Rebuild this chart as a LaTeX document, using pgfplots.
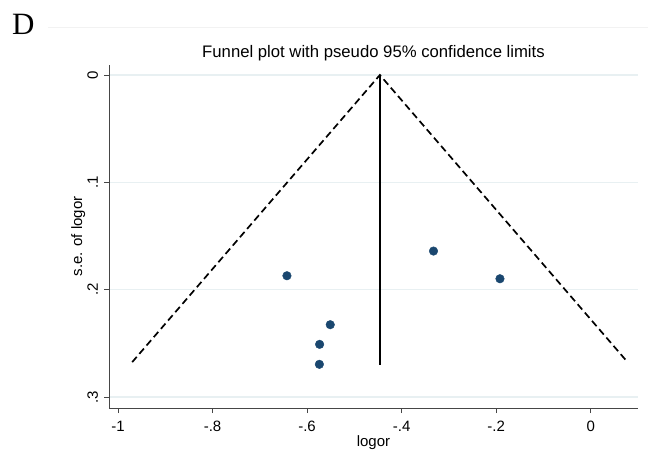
\documentclass[border=0pt]{standalone}
\usepackage{pgfplots}
\pgfplotsset{compat=1.18}
\usepackage{fontspec}
\setmainfont{Liberation Sans}
\newfontfamily\timesfont{Liberation Serif}
\definecolor{statanavy}{RGB}{26,71,111}
\definecolor{gridc}{RGB}{232,240,242}
\definecolor{axc}{RGB}{70,70,70}
\begin{document}
\begin{tikzpicture}[x=1pt,y=1pt]
\path[use as bounding box] (0,0) rectangle (648,451);
\draw[color=black!5, line width=0.6pt] (48,424) -- (648,424);
\node[font=\timesfont\fontsize{31}{31}\selectfont, anchor=base west, inner sep=0pt] at (12,416) {D};
\begin{axis}[
  at={(109pt,43pt)}, anchor=south west, scale only axis,
  width=529pt, height=343pt,
  xmin=-1.019, xmax=0.10, ymin=-0.0093, ymax=0.3102,
  y dir=reverse,
  clip=false,
  axis line style={draw=none},
  font=\fontsize{15}{18}\selectfont,
  xtick={-1,-0.8,-0.6,-0.4,-0.2,0},
  xticklabels={-1,-.8,-.6,-.4,-.2,0},
  ytick={0,0.1,0.2,0.3},
  yticklabels={0,.1,.2,.3},
  tick align=outside,
  major tick length=5pt,
  tick style={color=axc, line width=0.8pt},
  xtick pos=left, ytick pos=left,
  xticklabel style={anchor=base, inner sep=0pt, yshift=-18pt},
  yticklabel style={xshift=-6pt, rotate=90, anchor=base, inner sep=0pt},
  ymajorgrids, grid style={color=gridc, line width=1.2pt},
  title={Funnel plot with pseudo 95\% confidence limits},
  title style={at={(axis description cs:0.5,1)}, anchor=base, yshift=2pt, inner sep=0pt, font=\fontsize{16.7}{20}\selectfont},
  xlabel={logor},
  xlabel style={at={(axis description cs:0.5,0)}, anchor=base, yshift=-38pt, inner sep=0pt},
  ylabel={s.e. of logor},
  ylabel style={at={(axis description cs:0,0.5)}, anchor=base, yshift=27pt, inner sep=0pt},
]
\draw[color=axc, line width=0.9pt] (axis cs:-1.019,-0.0093) -- (axis cs:-1.019,0.3102) -- (axis cs:0.10,0.3102);
\addplot[black, line width=1.7pt, dash pattern=on 7pt off 4pt] coordinates {(-0.970,0.2675) (-0.446,0) (0.078,0.2675)};
\addplot[black, line width=1.6pt] coordinates {(-0.446,0) (-0.446,0.270)};
\addplot[only marks, mark=*, mark size=4.3pt, color=statanavy] coordinates {
(-0.6426,0.187) (-0.3326,0.164) (-0.192,0.1898) (-0.551,0.2326) (-0.5735,0.2509) (-0.574,0.2695)};
\end{axis}
\end{tikzpicture}
\end{document}
